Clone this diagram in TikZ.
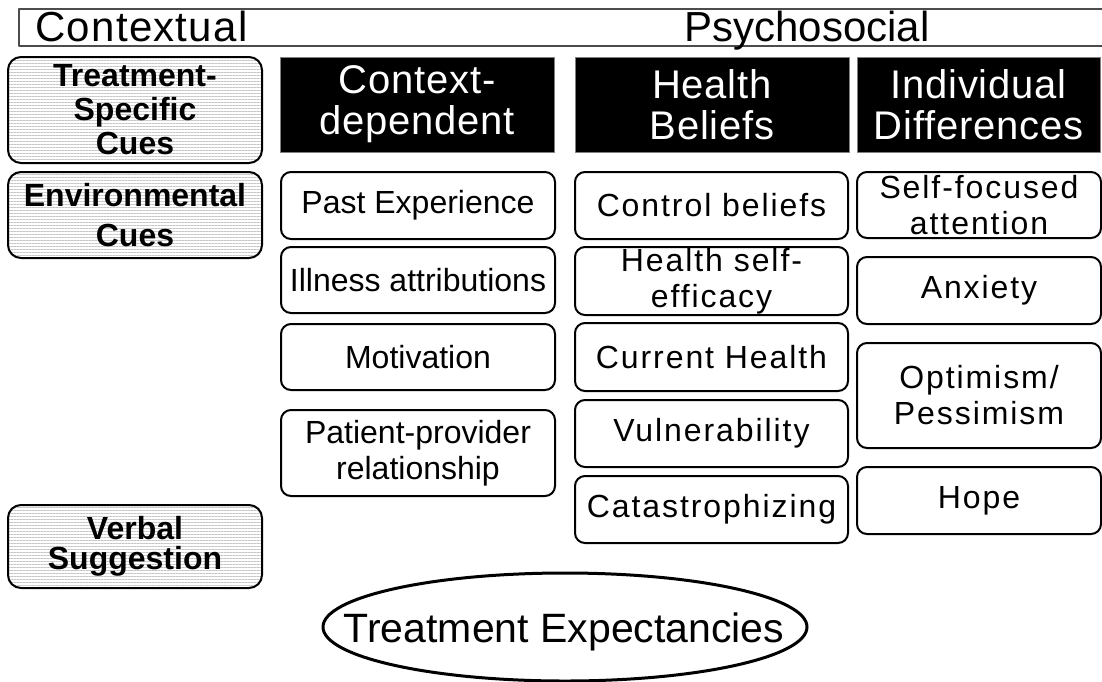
\documentclass[tikz,border=0pt]{standalone}
\usepackage{fontspec}
\setmainfont{Liberation Sans}
\usetikzlibrary{patterns.meta}

\begin{document}
\begin{tikzpicture}[line join=round,x=0.5pt,y=-0.5pt,
  cue/.style={draw,line width=1pt,rounded corners=6.5pt,pattern={Lines[distance=1.5pt,line width=0.25pt]},pattern color=gray!45,minimum width=127pt,inner sep=0pt,align=center,font=\fontsize{16}{17}\bfseries\selectfont},
  colhead/.style={draw=gray,fill=black,text=white,minimum width=137pt,minimum height=47.5pt,inner sep=0pt,align=center,font=\fontsize{20}{20.5}\selectfont\addfontfeature{LetterSpace=2}},
  item/.style={draw,line width=1pt,rounded corners=5pt,fill=white,inner sep=0pt,align=center,font=\fontsize{16}{18}\selectfont},
  wideitem/.style={item,font=\fontsize{16}{18}\selectfont\addfontfeature{LetterSpace=6}}]
\useasboundingbox (0,0) rectangle (1102,681);
% top band
\draw [black!70,line width=0.6pt] (19,9) rectangle (1110,46);
\node [anchor=base west,inner sep=0pt,font=\fontsize{21}{24}\selectfont\addfontfeature{LetterSpace=3}] (contextual) at (35,41) {Contextual};
\node [anchor=base,inner sep=0pt,font=\fontsize{21}{24}\selectfont] (psychosocial) at (807,41) {Psychosocial};
% contextual cues
\node [cue,minimum height=53pt] (specific) at (135,110) {Treatment-\\Specific\\Cues};
\node [cue,minimum height=43pt,font=\fontsize{16}{20}\bfseries\selectfont] (environ) at (135,215) {Environmental\\Cues};
\node [cue,minimum height=41.5pt,font=\fontsize{16}{15}\bfseries\selectfont] (verbal) at (135,546.5) {Verbal\\Suggestion};
% column heads
\node [colhead] (ctxdep) at (417,104.5) {Context-\\dependent};
\node [colhead] (beliefs) at (712,104.5) {Health\\Beliefs};
\node [colhead,minimum width=121.5pt] (indiv) at (978.5,104.5) {Individual\\Differences};
% context-dependent
\node [item,minimum width=137pt,minimum height=33.5pt] (past) at (418,205.5) {Past Experience};
\node [item,minimum width=137pt,minimum height=33pt] (illness) at (418,280) {Illness attributions};
\node [item,minimum width=137pt,minimum height=33pt] (motiv) at (418,357) {Motivation};
\node [item,minimum width=137pt,minimum height=43pt] (patient) at (418,453) {Patient-provider\\relationship};
% health beliefs
\node [wideitem,minimum width=136.5pt,minimum height=33.5pt] (control) at (711.5,205.5) {Control beliefs};
\node [wideitem,minimum width=136.5pt,minimum height=34pt] (efficacy) at (711.5,281) {Health self-\\efficacy};
\node [wideitem,minimum width=136.5pt,minimum height=34pt] (current) at (711.5,357) {Current Health};
\node [wideitem,minimum width=136.5pt,minimum height=33.5pt] (vulner) at (711.5,433.5) {Vulnerability};
\node [wideitem,minimum width=136.5pt,minimum height=33.5pt] (catast) at (711.5,509.5) {Catastrophizing};
% individual differences
\node [wideitem,minimum width=122pt,minimum height=33pt] (selffoc) at (979,205) {Self-focused\\attention};
\node [wideitem,minimum width=122pt,minimum height=33.5pt] (anxiety) at (979,290.5) {Anxiety};
\node [wideitem,minimum width=122pt,minimum height=52.5pt] (optim) at (979,395.5) {Optimism/\\Pessimism};
\node [wideitem,minimum width=122pt,minimum height=33.5pt] (hope) at (979,500.5) {Hope};
% outcome
\node [anchor=base,inner sep=0pt,font=\fontsize{20.5}{24}\selectfont] (expect) at (564,642) {Treatment Expectancies};
\draw [line width=1.5pt] (565,627) ellipse [x radius=121pt,y radius=27pt];
\end{tikzpicture}
\end{document}
